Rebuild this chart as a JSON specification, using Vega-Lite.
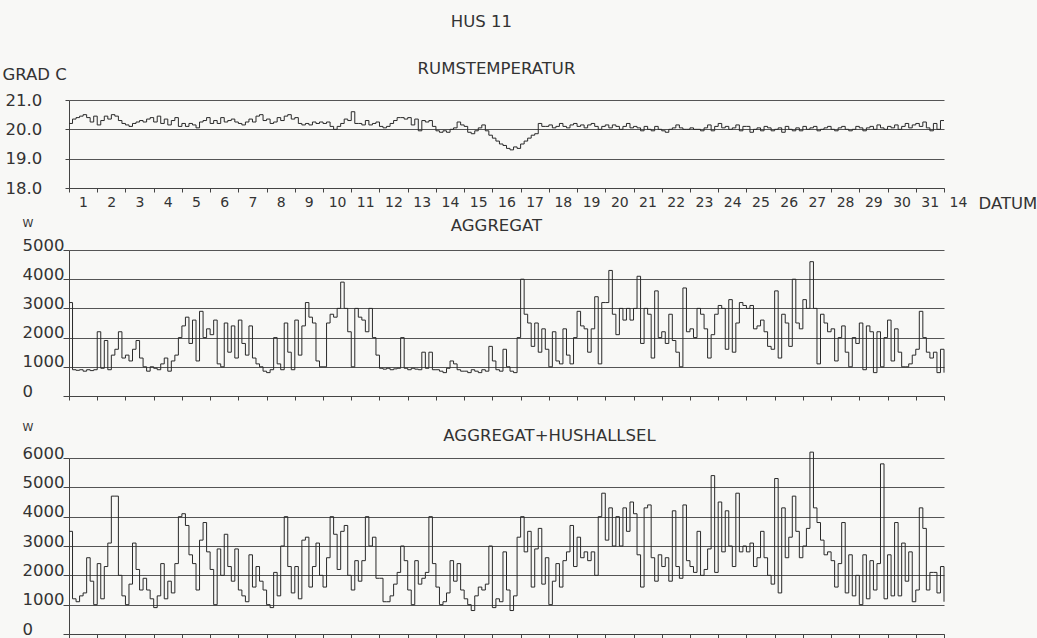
{
"$schema": "https://vega.github.io/schema/vega-lite/v6.json",
"background": "#f8f8f6",
"padding": {"left": 2, "top": 14, "right": 0, "bottom": 0},
"title": {"text": "HUS 11", "anchor": "middle", "dx": -38, "offset": 17, "baseline": "alphabetic", "fontSize": 16.5},
"config": {
  "font": "DejaVu Sans",
  "view": {"stroke": null},
  "axis": {"labelFont": "DejaVu Sans", "titleFont": "DejaVu Sans", "labelColor": "#333", "titleColor": "#333", "domainColor": "#444", "tickColor": "#444", "gridColor": "#555", "gridOpacity": 1, "labelFontWeight": "normal", "titleFontWeight": "normal"},
  "title": {"font": "DejaVu Sans", "fontWeight": "normal", "color": "#333", "fontSize": 16.5}
},
"data": {"values": [
{"d":0,"t":20.2,"a":3200,"s":3500},{"d":0.125,"t":20.35,"a":900,"s":1200},{"d":0.25,"t":20.4,"a":880,"s":1100},{"d":0.375,"t":20.45,"a":900,"s":1300},{"d":0.5,"t":20.5,"a":850,"s":1400},{"d":0.625,"t":20.4,"a":900,"s":2600},{"d":0.75,"t":20.25,"a":870,"s":1800},{"d":0.875,"t":20.45,"a":900,"s":1000},
{"d":1,"t":20.15,"a":2200,"s":2400},{"d":1.125,"t":20.3,"a":950,"s":1200},{"d":1.25,"t":20.45,"a":1900,"s":2300},{"d":1.375,"t":20.35,"a":900,"s":3100},{"d":1.5,"t":20.5,"a":1400,"s":4700},{"d":1.625,"t":20.45,"a":1600,"s":4700},{"d":1.75,"t":20.3,"a":2200,"s":2000},{"d":1.875,"t":20.2,"a":1300,"s":1300},
{"d":2,"t":20.15,"a":1400,"s":1000},{"d":2.125,"t":20.1,"a":1200,"s":1700},{"d":2.25,"t":20.2,"a":1600,"s":3100},{"d":2.375,"t":20.25,"a":1900,"s":2200},{"d":2.5,"t":20.3,"a":1300,"s":1500},{"d":2.625,"t":20.25,"a":1000,"s":1900},{"d":2.75,"t":20.35,"a":850,"s":1500},{"d":2.875,"t":20.4,"a":1000,"s":1200},
{"d":3,"t":20.25,"a":950,"s":900},{"d":3.125,"t":20.45,"a":900,"s":1300},{"d":3.25,"t":20.2,"a":1100,"s":2400},{"d":3.375,"t":20.35,"a":1300,"s":1200},{"d":3.5,"t":20.15,"a":850,"s":1800},{"d":3.625,"t":20.3,"a":1200,"s":1400},{"d":3.75,"t":20.4,"a":1400,"s":2400},{"d":3.875,"t":20.1,"a":2000,"s":4000},
{"d":4,"t":20.2,"a":2400,"s":4100},{"d":4.125,"t":20.1,"a":2700,"s":3700},{"d":4.25,"t":20.2,"a":1800,"s":2700},{"d":4.375,"t":20.15,"a":2600,"s":2400},{"d":4.5,"t":20.05,"a":1200,"s":1500},{"d":4.625,"t":20.25,"a":2900,"s":3200},{"d":4.75,"t":20.3,"a":2000,"s":3800},{"d":4.875,"t":20.4,"a":2300,"s":2800},
{"d":5,"t":20.2,"a":2100,"s":2200},{"d":5.125,"t":20.3,"a":2600,"s":1000},{"d":5.25,"t":20.2,"a":1100,"s":2900},{"d":5.375,"t":20.4,"a":1000,"s":2000},{"d":5.5,"t":20.25,"a":2500,"s":3400},{"d":5.625,"t":20.3,"a":1500,"s":2300},{"d":5.75,"t":20.35,"a":2400,"s":1800},{"d":5.875,"t":20.25,"a":1300,"s":2900},
{"d":6,"t":20.2,"a":2600,"s":1500},{"d":6.125,"t":20.15,"a":1800,"s":1300},{"d":6.25,"t":20.25,"a":1400,"s":1100},{"d":6.375,"t":20.35,"a":2400,"s":2700},{"d":6.5,"t":20.25,"a":1300,"s":1600},{"d":6.625,"t":20.45,"a":1100,"s":2300},{"d":6.75,"t":20.5,"a":1000,"s":1800},{"d":6.875,"t":20.3,"a":850,"s":1500},
{"d":7,"t":20.35,"a":800,"s":1000},{"d":7.125,"t":20.2,"a":900,"s":900},{"d":7.25,"t":20.25,"a":2000,"s":2100},{"d":7.375,"t":20.4,"a":1100,"s":1300},{"d":7.5,"t":20.3,"a":900,"s":3000},{"d":7.625,"t":20.45,"a":2500,"s":4000},{"d":7.75,"t":20.5,"a":1500,"s":2300},{"d":7.875,"t":20.35,"a":900,"s":1400},
{"d":8,"t":20.4,"a":2600,"s":2300},{"d":8.125,"t":20.2,"a":1400,"s":1200},{"d":8.25,"t":20.15,"a":2400,"s":3200},{"d":8.375,"t":20.2,"a":3200,"s":3300},{"d":8.5,"t":20.15,"a":2700,"s":1600},{"d":8.625,"t":20.25,"a":2500,"s":2300},{"d":8.75,"t":20.2,"a":1200,"s":3100},{"d":8.875,"t":20.25,"a":1000,"s":2000},
{"d":9,"t":20.2,"a":1000,"s":1600},{"d":9.125,"t":20.25,"a":2500,"s":2600},{"d":9.25,"t":20.1,"a":2800,"s":4000},{"d":9.375,"t":20.0,"a":2700,"s":3400},{"d":9.5,"t":20.1,"a":3000,"s":2200},{"d":9.625,"t":20.2,"a":3900,"s":3500},{"d":9.75,"t":20.35,"a":3000,"s":3700},{"d":9.875,"t":20.3,"a":2200,"s":2000},
{"d":10,"t":20.6,"a":1000,"s":1500},{"d":10.125,"t":20.2,"a":3000,"s":2500},{"d":10.25,"t":20.2,"a":2700,"s":1800},{"d":10.375,"t":20.15,"a":2600,"s":2500},{"d":10.5,"t":20.3,"a":2200,"s":4000},{"d":10.625,"t":20.15,"a":3000,"s":3000},{"d":10.75,"t":20.2,"a":2000,"s":3300},{"d":10.875,"t":20.25,"a":1400,"s":1900},
{"d":11,"t":20.1,"a":950,"s":1900},{"d":11.125,"t":20.05,"a":920,"s":1100},{"d":11.25,"t":20.1,"a":950,"s":1100},{"d":11.375,"t":20.2,"a":900,"s":1300},{"d":11.5,"t":20.3,"a":930,"s":1700},{"d":11.625,"t":20.4,"a":950,"s":2100},{"d":11.75,"t":20.4,"a":2000,"s":3000},{"d":11.875,"t":20.35,"a":950,"s":2500},
{"d":12,"t":20.4,"a":900,"s":1500},{"d":12.125,"t":20.15,"a":950,"s":1000},{"d":12.25,"t":20.35,"a":920,"s":2500},{"d":12.375,"t":19.95,"a":900,"s":1700},{"d":12.5,"t":20.3,"a":1500,"s":1900},{"d":12.625,"t":20.25,"a":950,"s":2100},{"d":12.75,"t":20.3,"a":1500,"s":4000},{"d":12.875,"t":20.1,"a":900,"s":2400},
{"d":13,"t":19.95,"a":900,"s":1600},{"d":13.125,"t":19.9,"a":850,"s":1000},{"d":13.25,"t":19.95,"a":800,"s":1100},{"d":13.375,"t":19.9,"a":950,"s":1400},{"d":13.5,"t":20.0,"a":1200,"s":2500},{"d":13.625,"t":20.05,"a":1100,"s":1800},{"d":13.75,"t":20.25,"a":900,"s":2400},{"d":13.875,"t":20.15,"a":850,"s":1500},
{"d":14,"t":20.1,"a":850,"s":1200},{"d":14.125,"t":19.9,"a":800,"s":1000},{"d":14.25,"t":19.85,"a":900,"s":800},{"d":14.375,"t":19.95,"a":850,"s":1300},{"d":14.5,"t":20.05,"a":800,"s":1600},{"d":14.625,"t":20.15,"a":900,"s":1500},{"d":14.75,"t":19.95,"a":850,"s":1700},{"d":14.875,"t":19.8,"a":1700,"s":3000},
{"d":15,"t":19.7,"a":1200,"s":900},{"d":15.125,"t":19.6,"a":900,"s":1200},{"d":15.25,"t":19.5,"a":850,"s":1100},{"d":15.375,"t":19.45,"a":1600,"s":2800},{"d":15.5,"t":19.35,"a":1000,"s":1500},{"d":15.625,"t":19.3,"a":850,"s":800},{"d":15.75,"t":19.4,"a":800,"s":1300},{"d":15.875,"t":19.35,"a":2000,"s":3300},
{"d":16,"t":19.5,"a":4000,"s":4000},{"d":16.125,"t":19.6,"a":2800,"s":2800},{"d":16.25,"t":19.7,"a":2500,"s":3500},{"d":16.375,"t":19.8,"a":1700,"s":1600},{"d":16.5,"t":19.85,"a":2500,"s":2900},{"d":16.625,"t":20.2,"a":1500,"s":3600},{"d":16.75,"t":20.1,"a":2300,"s":1700},{"d":16.875,"t":20.1,"a":1600,"s":2600},
{"d":17,"t":20.15,"a":1000,"s":1000},{"d":17.125,"t":20.05,"a":2200,"s":1800},{"d":17.25,"t":20.1,"a":1200,"s":2400},{"d":17.375,"t":20.2,"a":1100,"s":1600},{"d":17.5,"t":20.1,"a":2300,"s":2500},{"d":17.625,"t":20.05,"a":1400,"s":2800},{"d":17.75,"t":20.15,"a":1100,"s":3700},{"d":17.875,"t":20.2,"a":2000,"s":2300},
{"d":18,"t":20.1,"a":2900,"s":3300},{"d":18.125,"t":20.15,"a":2400,"s":2600},{"d":18.25,"t":20.05,"a":2300,"s":2800},{"d":18.375,"t":20.15,"a":1500,"s":2500},{"d":18.5,"t":20.2,"a":2300,"s":2800},{"d":18.625,"t":20.1,"a":3400,"s":2000},{"d":18.75,"t":20.0,"a":1100,"s":4000},{"d":18.875,"t":20.1,"a":3200,"s":4800},
{"d":19,"t":20.15,"a":3200,"s":3200},{"d":19.125,"t":20.05,"a":4300,"s":4300},{"d":19.25,"t":20.15,"a":2800,"s":3000},{"d":19.375,"t":20.1,"a":2100,"s":4000},{"d":19.5,"t":20.0,"a":3000,"s":3000},{"d":19.625,"t":20.1,"a":2600,"s":4300},{"d":19.75,"t":20.2,"a":3000,"s":3500},{"d":19.875,"t":20.05,"a":2600,"s":4500},
{"d":20,"t":20.1,"a":3000,"s":4100},{"d":20.125,"t":20.05,"a":4100,"s":2700},{"d":20.25,"t":19.95,"a":1800,"s":1600},{"d":20.375,"t":20.1,"a":3000,"s":4300},{"d":20.5,"t":20.0,"a":2800,"s":4400},{"d":20.625,"t":19.95,"a":1300,"s":2600},{"d":20.75,"t":20.1,"a":3600,"s":1800},{"d":20.875,"t":20.0,"a":2000,"s":2700},
{"d":21,"t":19.95,"a":2200,"s":2300},{"d":21.125,"t":19.9,"a":1800,"s":2600},{"d":21.25,"t":20.0,"a":2800,"s":1800},{"d":21.375,"t":20.05,"a":1900,"s":4200},{"d":21.5,"t":20.15,"a":1500,"s":2300},{"d":21.625,"t":20.05,"a":1000,"s":1900},{"d":21.75,"t":20.0,"a":3700,"s":4400},{"d":21.875,"t":20.0,"a":2200,"s":2500},
{"d":22,"t":20.05,"a":2300,"s":2300},{"d":22.125,"t":20.0,"a":2000,"s":2100},{"d":22.25,"t":20.0,"a":3000,"s":3500},{"d":22.375,"t":19.95,"a":2800,"s":2000},{"d":22.5,"t":20.05,"a":2300,"s":2200},{"d":22.625,"t":20.15,"a":1300,"s":2900},{"d":22.75,"t":19.95,"a":2100,"s":5400},{"d":22.875,"t":20.1,"a":2800,"s":2100},
{"d":23,"t":20.2,"a":3100,"s":4500},{"d":23.125,"t":20.05,"a":3000,"s":2800},{"d":23.25,"t":20.1,"a":1600,"s":4200},{"d":23.375,"t":20.0,"a":3300,"s":3000},{"d":23.5,"t":20.05,"a":1500,"s":2300},{"d":23.625,"t":20.15,"a":2500,"s":4800},{"d":23.75,"t":19.95,"a":3200,"s":2800},{"d":23.875,"t":20.1,"a":3100,"s":3000},
{"d":24,"t":20.1,"a":3000,"s":2800},{"d":24.125,"t":19.9,"a":3100,"s":3100},{"d":24.25,"t":20.0,"a":2300,"s":2300},{"d":24.375,"t":20.05,"a":2400,"s":2600},{"d":24.5,"t":19.95,"a":2600,"s":3500},{"d":24.625,"t":20.1,"a":2200,"s":2600},{"d":24.75,"t":20.05,"a":1700,"s":2000},{"d":24.875,"t":19.95,"a":1600,"s":1700},
{"d":25,"t":20.0,"a":3600,"s":5300},{"d":25.125,"t":20.05,"a":1300,"s":1400},{"d":25.25,"t":19.9,"a":2800,"s":4300},{"d":25.375,"t":20.1,"a":2500,"s":2600},{"d":25.5,"t":20.0,"a":1700,"s":3300},{"d":25.625,"t":19.95,"a":4000,"s":4700},{"d":25.75,"t":20.05,"a":2500,"s":3500},{"d":25.875,"t":19.95,"a":2300,"s":2600},
{"d":26,"t":20.1,"a":3300,"s":3000},{"d":26.125,"t":20.0,"a":3000,"s":3600},{"d":26.25,"t":20.05,"a":4600,"s":6200},{"d":26.375,"t":20.1,"a":3000,"s":4300},{"d":26.5,"t":19.95,"a":1100,"s":3800},{"d":26.625,"t":20.0,"a":2800,"s":3200},{"d":26.75,"t":20.05,"a":2500,"s":2700},{"d":26.875,"t":20.1,"a":2200,"s":2800},
{"d":27,"t":20.0,"a":2300,"s":2500},{"d":27.125,"t":19.95,"a":1200,"s":1600},{"d":27.25,"t":20.05,"a":2000,"s":2400},{"d":27.375,"t":20.1,"a":2400,"s":3800},{"d":27.5,"t":20.0,"a":1500,"s":1400},{"d":27.625,"t":19.95,"a":1000,"s":2700},{"d":27.75,"t":20.0,"a":2000,"s":1300},{"d":27.875,"t":20.1,"a":1800,"s":2000},
{"d":28,"t":20.05,"a":2500,"s":1000},{"d":28.125,"t":19.95,"a":900,"s":2700},{"d":28.25,"t":20.05,"a":2400,"s":1200},{"d":28.375,"t":20.1,"a":2200,"s":2500},{"d":28.5,"t":20.0,"a":800,"s":1500},{"d":28.625,"t":20.15,"a":2200,"s":2400},{"d":28.75,"t":20.05,"a":1000,"s":5800},{"d":28.875,"t":20.0,"a":2000,"s":1200},
{"d":29,"t":20.1,"a":2600,"s":2700},{"d":29.125,"t":20.05,"a":1200,"s":1300},{"d":29.25,"t":20.15,"a":2300,"s":3800},{"d":29.375,"t":20.0,"a":1500,"s":1300},{"d":29.5,"t":20.1,"a":1000,"s":3100},{"d":29.625,"t":20.2,"a":1000,"s":1800},{"d":29.75,"t":20.05,"a":1100,"s":2800},{"d":29.875,"t":20.15,"a":1400,"s":1100},
{"d":30,"t":20.2,"a":1600,"s":1500},{"d":30.125,"t":20.1,"a":2900,"s":4300},{"d":30.25,"t":20.25,"a":2000,"s":3600},{"d":30.375,"t":20.05,"a":1500,"s":1500},{"d":30.5,"t":19.95,"a":1300,"s":2100},{"d":30.625,"t":20.2,"a":1500,"s":2100},{"d":30.75,"t":20.0,"a":800,"s":1400},{"d":30.875,"t":20.3,"a":1600,"s":2300},
{"d":31,"t":20.3,"a":800,"s":1100}
]},
"bounds": "flush",
"spacing": 62,
"vconcat": [
  {
    "width": 875, "height": 88,
    "title": {"text": "RUMSTEMPERATUR", "anchor": "middle", "dx": -10, "offset": -24, "baseline": "alphabetic"},
    "mark": {"type": "line", "interpolate": "step-after", "stroke": "#2a2a2a", "strokeWidth": 1},
    "encoding": {
      "x": {"field": "d", "type": "quantitative", "scale": {"domain": [0, 31], "nice": false, "zero": false},
        "axis": {"values": [0,1,2,3,4,5,6,7,8,9,10,11,12,13,14,15,16,17,18,19,20,21,22,23,24,25,26,27,28,29,30,31],
          "labelExpr": "datum.value < 31 ? '' + (datum.value + 1) : '14'", "labelOffset": 14, "labelAlign": "center",
          "labelFontSize": 14, "labelOverlap": false, "labelFlush": false, "labelBound": false,
          "tickSize": 4, "labelPadding": 3, "grid": false,
          "title": "DATUM", "titleX": 909, "titleY": 20, "titleAlign": "left", "titleBaseline": "alphabetic", "titleFontSize": 16.5}},
      "y": {"field": "t", "type": "quantitative", "scale": {"domain": [18, 21], "nice": false, "zero": false},
        "axis": {"values": [18, 19, 20, 21], "format": ".1f", "grid": true, "tickSize": 4, "labelPadding": 60,
          "labelAlign": "left", "labelBaseline": "middle", "labelFontSize": 16.5,
          "title": "GRAD C", "titleAngle": 0, "titleAlign": "left", "titleBaseline": "alphabetic", "titleX": -67, "titleY": -21, "titleFontSize": 16.5}}
    }
  },
  {
    "width": 875, "height": 146,
    "title": {"text": "AGGREGAT", "anchor": "middle", "dx": -10, "offset": -30, "baseline": "alphabetic"},
    "mark": {"type": "line", "interpolate": "step-after", "stroke": "#2a2a2a", "strokeWidth": 1},
    "encoding": {
      "x": {"field": "d", "type": "quantitative", "scale": {"domain": [0, 31], "nice": false, "zero": false},
        "axis": {"values": [0,1,2,3,4,5,6,7,8,9,10,11,12,13,14,15,16,17,18,19,20,21,22,23,24,25,26,27,28,29,30,31],
          "labels": false, "tickSize": 4, "grid": false, "title": null}},
      "y": {"field": "a", "type": "quantitative", "scale": {"domain": [0, 5000], "nice": false},
        "axis": {"values": [0, 1000, 2000, 3000, 4000, 5000], "format": "d", "grid": true, "tickSize": 6, "labelPadding": 41,
          "labelAlign": "left", "labelBaseline": "alphabetic", "labelFontSize": 16.5,
          "title": "W", "titleAngle": 0, "titleAlign": "left", "titleBaseline": "alphabetic", "titleX": -47, "titleY": -24, "titleFontSize": 11}}
    }
  },
  {
    "width": 875, "height": 176,
    "title": {"text": "AGGREGAT+HUSHALLSEL", "anchor": "middle", "dx": 43, "offset": -36, "baseline": "alphabetic"},
    "mark": {"type": "line", "interpolate": "step-after", "stroke": "#2a2a2a", "strokeWidth": 1},
    "encoding": {
      "x": {"field": "d", "type": "quantitative", "scale": {"domain": [0, 31], "nice": false, "zero": false},
        "axis": {"values": [0,1,2,3,4,5,6,7,8,9,10,11,12,13,14,15,16,17,18,19,20,21,22,23,24,25,26,27,28,29,30,31],
          "labels": false, "tickSize": 4, "grid": false, "title": null}},
      "y": {"field": "s", "type": "quantitative", "scale": {"domain": [0, 6000], "nice": false},
        "axis": {"values": [0, 1000, 2000, 3000, 4000, 5000, 6000], "format": "d", "grid": true, "tickSize": 6, "labelPadding": 41,
          "labelAlign": "left", "labelBaseline": "alphabetic", "labelFontSize": 16.5,
          "title": "W", "titleAngle": 0, "titleAlign": "left", "titleBaseline": "alphabetic", "titleX": -47, "titleY": -28, "titleFontSize": 11}}
    }
  }
]
}
